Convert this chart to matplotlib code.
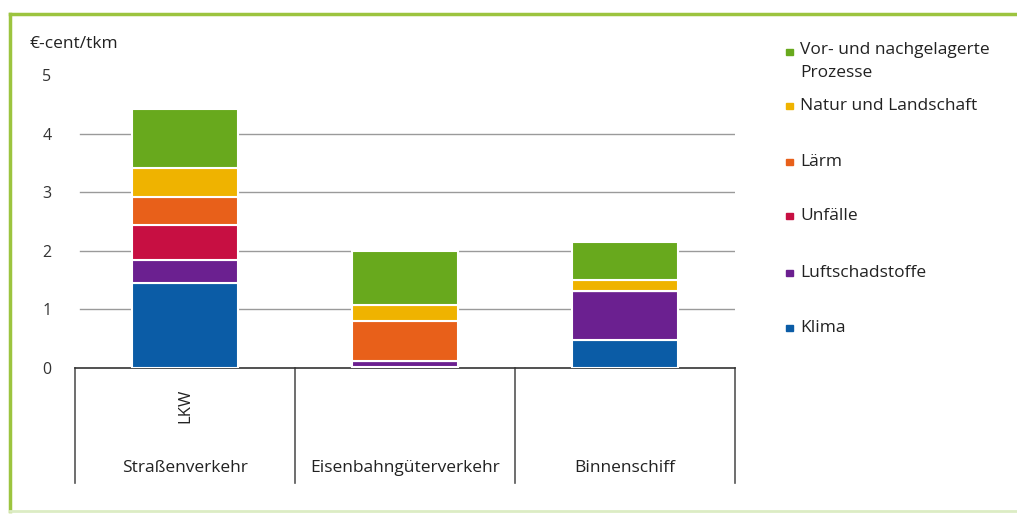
import matplotlib
matplotlib.use("Agg")
import matplotlib.pyplot as plt
from matplotlib.patches import Rectangle
from matplotlib.lines import Line2D
import numpy as np

plt.rcParams['font.family'] = ['Open Sans', 'DejaVu Sans']

categories = ["Straßenverkehr", "Eisenbahngüterverkehr", "Binnenschiff"]
sub_labels = ["LKW", "", ""]
series_names = ["Klima", "Luftschadstoffe", "Unfälle", "Lärm",
                "Natur und Landschaft", "Vor- und nachgelagerte\nProzesse"]
klima = [1.45, 0.02, 0.47]
luftschadstoffe = [0.40, 0.10, 0.84]
unfaelle = [0.59, 0.00, 0.00]
laerm = [0.48, 0.68, 0.00]
natur = [0.49, 0.27, 0.20]
vor_nach = [1.01, 0.93, 0.64]
series_values = [klima, luftschadstoffe, unfaelle, laerm, natur, vor_nach]
colors = ["#0b5ca6", "#6b2090", "#c70f42", "#e8601a", "#efb300", "#68a91d"]
yticks = [0, 1, 2, 3, 4, 5]

W, H = 1017, 514
fig = plt.figure(figsize=(W / 100, H / 100), dpi=100)
ax = fig.add_axes([75 / W, (H - 368) / H, (735 - 75) / W, (368 - 75) / H])

x = np.arange(len(categories))
bottom = np.zeros(len(categories))
for vals, col in zip(series_values, colors):
    v = np.array(vals)
    ax.bar(x, v, width=0.48, bottom=bottom, color=col, edgecolor="white",
           linewidth=1.5, zorder=3)
    bottom += v

ax.set_xlim(-0.5, 2.5)
ax.set_ylim(0, 5)
ax.set_yticks(yticks)
ax.set_yticklabels([str(t) for t in yticks], fontsize=11.5, color="#333333")
ax.tick_params(axis="y", length=0, pad=17)
ax.set_xticks([])
for t in yticks[1:-1]:
    ax.axhline(t, xmin=0.008, xmax=1, color="#9a9a9a", linewidth=1, zorder=1)
for s in ["top", "right", "left"]:
    ax.spines[s].set_visible(False)
ax.spines["bottom"].set_color("#333333")
ax.spines["bottom"].set_linewidth(1.2)

# category table below axis
trans = ax.get_xaxis_transform()
ybot = -(483 - 368) / (368 - 75)
for xb in [-0.5, 0.5, 1.5, 2.5]:
    ax.add_line(Line2D([xb, xb], [0, ybot], transform=trans, color="#555555",
                       linewidth=1.2, clip_on=False))
ycat = -(468 - 368) / (368 - 75)
ysub = -(406 - 368) / (368 - 75)
for i, (c, s) in enumerate(zip(categories, sub_labels)):
    ax.text(i, ycat, c, transform=trans, ha="center", va="center",
            fontsize=12.5, color="#222222")
    if s:
        ax.text(i, ysub, s, transform=trans, ha="center", va="center",
                rotation=90, fontsize=12, color="#222222")

fig.text(30 / W, 1 - 44 / H, "€-cent/tkm", ha="left", va="center",
         fontsize=12.5, color="#222222")

# legend (top to bottom)
leg_y = [52, 106, 162, 216, 273, 328]
for name, col, yy in zip(series_names[::-1], colors[::-1], leg_y):
    fig.patches.append(Rectangle((786 / W, 1 - (yy + 3) / H), 7 / W, 6 / H,
                                 transform=fig.transFigure, color=col))
    if "\n" in name:
        fig.text(800 / W, 1 - (yy - 10) / H, name, ha="left", va="top",
                 fontsize=12.5, color="#222222", linespacing=1.55)
    else:
        fig.text(800 / W, 1 - yy / H, name, ha="left", va="center",
                 fontsize=12.5, color="#222222")

# green frame
fc = "#9cc43f"
fig.add_artist(Line2D([10 / W, 1], [1 - 14 / H, 1 - 14 / H], transform=fig.transFigure,
                      color=fc, linewidth=2.5))
fig.add_artist(Line2D([10 / W, 10 / W], [1 - 14 / H, 1 - 511 / H], transform=fig.transFigure,
                      color=fc, linewidth=2.5))
fig.add_artist(Line2D([10 / W, 1], [1 - 511 / H, 1 - 511 / H], transform=fig.transFigure,
                      color="#dcecc4", linewidth=2))

fig.savefig("out.png", dpi=100)
